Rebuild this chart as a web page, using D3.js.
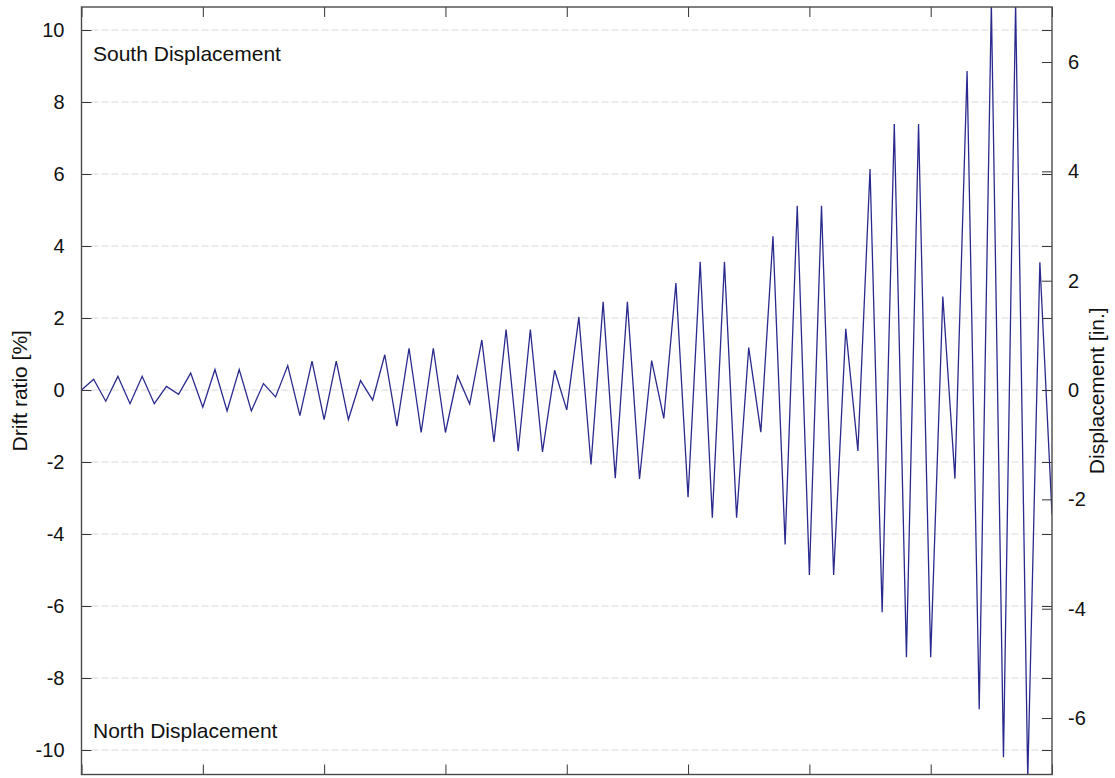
<!DOCTYPE html>
<html>
<head>
<meta charset="utf-8">
<script src="https://cdn.jsdelivr.net/npm/d3@7"></script>
<style>
  body { margin: 0; background: #ffffff; }
  svg { display: block; font-family: Arial, "Liberation Sans", sans-serif; }
</style>
</head>
<body>
<svg id="chart" width="1115" height="778"></svg>
<script>
// Imposed drift ratio at each load reversal (half-cycle), in percent.
// Positive = south, negative = north.
const driftReversals = [
  0,
  0.30, -0.31, 0.38, -0.38, 0.38, -0.38, 0.10, -0.12,
  0.47, -0.48, 0.57, -0.58, 0.57, -0.58, 0.18, -0.19,
  0.68, -0.71, 0.80, -0.82, 0.80, -0.82, 0.26, -0.28,
  0.98, -1.00, 1.16, -1.18, 1.16, -1.18, 0.39, -0.39,
  1.39, -1.44, 1.68, -1.70, 1.68, -1.72, 0.55, -0.55,
  2.03, -2.07, 2.45, -2.45, 2.45, -2.47, 0.82, -0.79,
  2.97, -2.98, 3.56, -3.55, 3.56, -3.55, 1.18, -1.17,
  4.27, -4.29, 5.12, -5.14, 5.12, -5.14, 1.70, -1.69,
  6.14, -6.17, 7.39, -7.42, 7.39, -7.42, 2.60, -2.46,
  8.86, -8.87, 10.75, -10.20, 10.75, -10.80, 3.55, -3.45
];

// Axis ticks
const driftTicks = [-10, -8, -6, -4, -2, 0, 2, 4, 6, 8, 10];
const inchTicks = [-6, -4, -2, 0, 2, 4, 6];
const stepTicks = [0, 10, 20, 30, 40, 50, 60, 70, 80];

// Specimen height used to convert drift ratio to displacement (in.)
const specimenHeight = 65.85;

// Text
const leftLabel = "Drift ratio [%]";
const rightLabel = "Displacement [in.]";
const southNote = "South Displacement";
const northNote = "North Displacement";

const svg = d3.select("#chart");
const plot = { left: 81.5, right: 1052, top: 7, bottom: 774.5 };
const driftDomain = [-10.68, 10.64];

const x = d3.scaleLinear().domain([0, driftReversals.length - 1]).range([plot.left, plot.right]);
const y = d3.scaleLinear().domain(driftDomain).range([plot.bottom, plot.top]);
const yIn = d3.scaleLinear()
  .domain(driftDomain.map(d => d * specimenHeight / 100))
  .range([plot.bottom, plot.top]);

const W = plot.right - plot.left;
const H = plot.bottom - plot.top;
const plainNumber = d => String(d);   // hyphen-minus, as plotted

svg.append("rect").attr("width", 1115).attr("height", 778).attr("fill", "#ffffff");

svg.append("defs").append("clipPath").attr("id", "plot-clip")
  .append("rect").attr("x", plot.left).attr("y", plot.top).attr("width", W).attr("height", H);

// Horizontal grid lines at the drift ticks
svg.append("g")
  .selectAll("line")
  .data(driftTicks)
  .join("line")
  .attr("x1", plot.left).attr("x2", plot.right)
  .attr("y1", d => y(d)).attr("y2", d => y(d))
  .attr("stroke", "#d9d9d9")
  .attr("stroke-width", 1)
  .attr("stroke-dasharray", "7,3");

// Loading history
const line = d3.line().x((d, i) => x(i)).y(d => y(d));
svg.append("path")
  .datum(driftReversals)
  .attr("clip-path", "url(#plot-clip)")
  .attr("d", line)
  .attr("fill", "none")
  .attr("stroke", "#2a2a8e")
  .attr("stroke-width", 1.3)
  .attr("stroke-linejoin", "miter");

const tickLen = 10;
function styleAxis(g) {
  g.select(".domain").remove();
  g.selectAll(".tick line").attr("stroke", "#333").attr("stroke-width", 1);
  g.selectAll(".tick text").attr("fill", "#111").style("font-size", "20px")
    .style("font-family", "Arial, 'Liberation Sans', sans-serif");
}

// Left axis (ticks pointing inward)
svg.append("g")
  .attr("transform", `translate(${plot.left},0)`)
  .call(d3.axisLeft(y).tickValues(driftTicks).tickSize(-tickLen).tickPadding(17).tickFormat(plainNumber))
  .call(styleAxis);

// Drift ticks mirrored on the right edge
svg.append("g")
  .attr("transform", `translate(${plot.right},0)`)
  .call(d3.axisRight(y).tickValues(driftTicks).tickSize(-tickLen).tickFormat(""))
  .call(styleAxis);

// Right axis in inches
svg.append("g")
  .attr("transform", `translate(${plot.right},0)`)
  .call(d3.axisRight(yIn).tickValues(inchTicks).tickSize(-tickLen).tickPadding(16).tickFormat(plainNumber))
  .call(styleAxis);

// Bottom and top ticks, no labels
svg.append("g")
  .attr("transform", `translate(0,${plot.bottom})`)
  .call(d3.axisBottom(x).tickValues(stepTicks).tickSize(-tickLen).tickFormat(""))
  .call(styleAxis);
svg.append("g")
  .attr("transform", `translate(0,${plot.top})`)
  .call(d3.axisTop(x).tickValues(stepTicks).tickSize(-tickLen).tickFormat(""))
  .call(styleAxis);

// Frame
svg.append("rect")
  .attr("x", plot.left).attr("y", plot.top).attr("width", W).attr("height", H)
  .attr("fill", "none").attr("stroke", "#4a4a4a").attr("stroke-width", 1.4);

// Axis titles
svg.append("text")
  .attr("transform", `translate(27,${(plot.top + plot.bottom) / 2}) rotate(-90)`)
  .attr("text-anchor", "middle")
  .style("font-size", "21px").attr("fill", "#111")
  .text(leftLabel);
svg.append("text")
  .attr("transform", `translate(1104,${(plot.top + plot.bottom) / 2}) rotate(-90)`)
  .attr("text-anchor", "middle")
  .style("font-size", "21px").attr("fill", "#111")
  .text(rightLabel);

// Direction notes
svg.append("text").attr("x", 93).attr("y", 61)
  .style("font-size", "21px").attr("fill", "#111").text(southNote);
svg.append("text").attr("x", 93).attr("y", 738)
  .style("font-size", "21px").attr("fill", "#111").text(northNote);
</script>
</body>
</html>
